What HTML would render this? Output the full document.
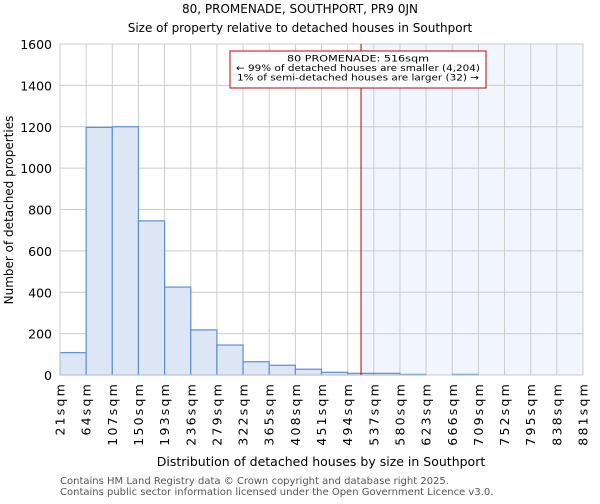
<!DOCTYPE html>
<html><head><meta charset="utf-8"><style>
body{margin:0;background:#fff;font-family:"DejaVu Sans","Liberation Sans",sans-serif}
</style></head><body>
<svg id="chart" width="600" height="500" xmlns="http://www.w3.org/2000/svg" font-family="DejaVu Sans, Liberation Sans, sans-serif">
<text x="300" y="13" text-anchor="middle" font-size="12">80, PROMENADE, SOUTHPORT, PR9 0JN</text>
<text x="300" y="32" text-anchor="middle" font-size="12">Size of property relative to detached houses in Southport</text>
<g id="plot"></g>
<text x="321" y="466" text-anchor="middle" font-size="12.5">Distribution of detached houses by size in Southport</text>
<text transform="translate(13,210) rotate(-90)" text-anchor="middle" font-size="12">Number of detached properties</text>
<text x="60" y="484" font-size="10" fill="#555">Contains HM Land Registry data © Crown copyright and database right 2025.</text>
<text x="60" y="495" font-size="10" fill="#555">Contains public sector information licensed under the Open Government Licence v3.0.</text>
</svg>
<script>
const binLabels=["21sqm","64sqm","107sqm","150sqm","193sqm","236sqm","279sqm","322sqm","365sqm","408sqm","451sqm","494sqm","537sqm","580sqm","623sqm","666sqm","709sqm","752sqm","795sqm","838sqm","881sqm"];
const counts=[108,1197,1200,745,425,218,145,64,47,28,13,8,8,3,0,3,0,0,0,0];
const yTicks=[0,200,400,600,800,1000,1200,1400,1600];
const propertySize=516;
const binStart=21, binStep=43;
const NS="http://www.w3.org/2000/svg";
const L=60,R=583,T=44,B=375,yMax=1600;
const bw=(R-L)/counts.length;
const xs=v=>L+(v-binStart)/binStep*bw;
const ys=v=>B-v/yMax*(B-T);
const g=document.getElementById('plot');
function mk(t,a){const e=document.createElementNS(NS,t);for(const k in a)e.setAttribute(k,a[k]);g.appendChild(e);return e;}
const px=xs(propertySize);
let e=mk('rect',{x:px,y:T,width:R-px,height:B-T,fill:'#f1f5fd'});


yTicks.forEach(t=>{const l=mk('line',{x1:L,x2:R,y1:ys(t),y2:ys(t),stroke:'#ccc','stroke-width':1});


const tx=mk('text',{x:L-8,y:ys(t)+5,'text-anchor':'end','font-size':12.5});tx.textContent=t;

});
binLabels.forEach((s,i)=>{const x=L+i*bw;const l=mk('line',{x1:x,x2:x,y1:T,y2:B,stroke:'#ccc','stroke-width':1});


const tx=mk('text',{transform:`translate(${x+4.5},382) rotate(-90)`,'text-anchor':'end','font-size':12.5,'letter-spacing':'2.2'});tx.textContent=s;

});
counts.forEach((c,i)=>{if(c<=0)return;const r=mk('rect',{x:L+i*bw,y:ys(c),width:bw,height:B-ys(c),fill:'#dce6f4',stroke:'#5b8fd4','stroke-width':1.2});

});
const fr=mk('rect',{x:L,y:T,width:R-L,height:B-T,fill:'none',stroke:'#ccc'});


const ml=mk('line',{x1:px,x2:px,y1:T,y2:B,stroke:'#b00','stroke-width':1});


const ab=mk('rect',{x:230,y:51,width:256,height:37,fill:'#fff',stroke:'#c00','stroke-width':1});


const annLens=[142,244,242];
["80 PROMENADE: "+propertySize+"sqm","← 99% of detached houses are smaller (4,204)","1% of semi-detached houses are larger (32) →"].forEach((s,i)=>{
const t=mk('text',{x:358,y:61.5+i*9.5,'text-anchor':'middle','font-size':9,textLength:annLens[i],lengthAdjust:'spacingAndGlyphs'});t.textContent=s;

});
</script>
</body></html>
